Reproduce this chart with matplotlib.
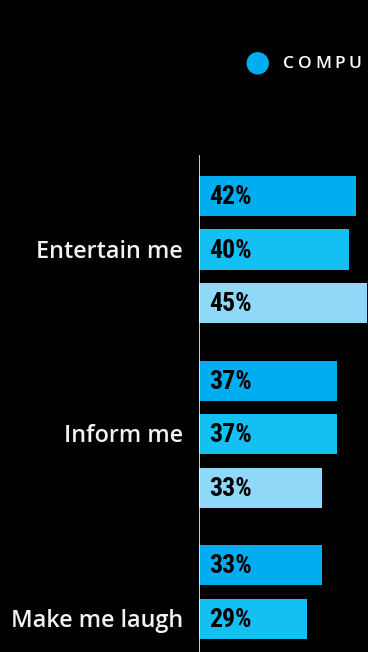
"""
Horizontal grouped bars: what people want from content, dark theme
"""
import numpy as np
import matplotlib.pyplot as plt
from matplotlib import patches, font_manager

CATEGORIES = ["Entertain me", "Inform me", "Make me laugh"]
SERIES_NAMES = ["COMPUTER", "SMARTPHONE", "TABLET"]
COMPUTER = [42, 37, 33]
SMARTPHONE = [40, 37, 29]
TABLET = [45, 33, 34]

COLORS = ["#00AEEF", "#14C0F3", "#8FD8F7"]
BG = "black"
FIGSIZE = (3.68, 6.52)
DPI = 100

GROUP_STEP = 3.45   # slots between group starts
BAR_H = 0.75
PX_PER_SLOT = 53.5
TOP_PX = 196        # pixel row of the first bar centre
TRACKING = 3.5      # px between legend letters

# condensed font for the value labels, if one is around
installed = {f.name for f in font_manager.fontManager.ttflist}
NUM_FONT = [f for f in ["Roboto Condensed", "Liberation Sans Narrow", "Noto Sans Condensed",
                        "Open Sans Condensed", "Roboto"] if f in installed] + ["DejaVu Sans"]


def main():
    plt.rcParams["font.family"] = ["Open Sans", "DejaVu Sans"]
    fig = plt.figure(figsize=FIGSIZE, dpi=DPI, facecolor=BG)
    W, H = FIGSIZE[0] * DPI, FIGSIZE[1] * DPI
    x0 = 198.5
    ax = fig.add_axes([x0 / W, 0, 1 - x0 / W, 1])
    ax.set_facecolor(BG)
    ax.set_xlim(0, 45.2)
    ax.set_ylim((H - TOP_PX) / PX_PER_SLOT, -TOP_PX / PX_PER_SLOT)
    ax.axis("off")

    series = [COMPUTER, SMARTPHONE, TABLET]
    g = np.arange(len(CATEGORIES)) * GROUP_STEP
    for j, vals in enumerate(series):
        y = g + j
        ax.barh(y, vals, height=BAR_H, color=COLORS[j], left=0)
        for yy, v in zip(y, vals):
            ax.annotate(f"{v}%", (0, yy), xytext=(8.0, -0.8), textcoords="offset points",
                        ha="left", va="center", fontsize=18.5, fontweight="bold",
                        family=NUM_FONT[0], color="black")

    for yy, name in zip(g + 1, CATEGORIES):
        ax.annotate(name, (0, yy), xytext=(-11.0, -5.9), textcoords="offset points",
                    ha="right", va="baseline", fontsize=16.8, fontweight="semibold",
                    color="#f2f2f2")

    # axis line
    ax.vlines(0, -41 / PX_PER_SLOT, (H - TOP_PX) / PX_PER_SLOT, color="white", lw=1.1)

    # legend (runs off the right edge in the original, keep the letters that fit)
    fig.add_artist(patches.Circle((2.577, (H - 63.3) / DPI), 0.105, color=COLORS[0],
                                  transform=fig.dpi_scale_trans))
    renderer = fig.canvas.get_renderer()
    x = 283.5
    for ch in SERIES_NAMES[0]:
        t = fig.text(x / W, 1 - 63.5 / H, ch, color="white", fontsize=12.5,
                     fontweight="semibold", ha="left", va="center")
        bb = t.get_window_extent(renderer)
        if bb.x1 > W:
            t.remove()
            break
        x = bb.x1 + TRACKING

    plt.savefig("out.png", dpi=DPI, facecolor=BG)


if __name__ == '__main__':
    main()
